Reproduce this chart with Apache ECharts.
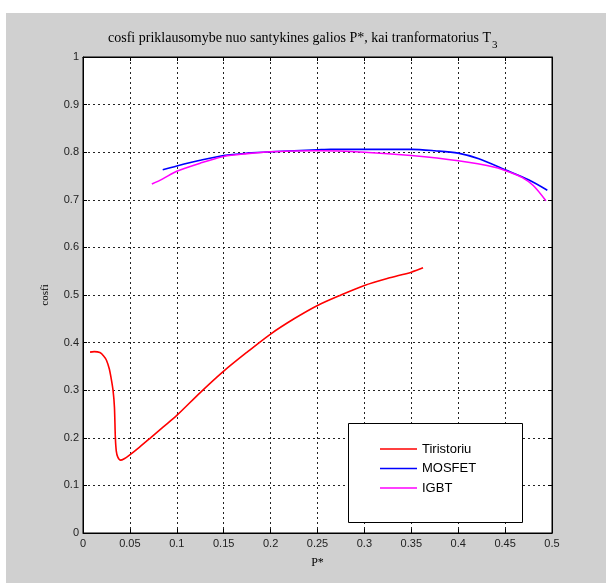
<!DOCTYPE html>
<html>
<head>
<meta charset="utf-8">
<script src="https://cdn.jsdelivr.net/npm/echarts@6/dist/echarts.min.js"></script>
<style>
html,body{margin:0;padding:0;background:#fff;}
#wrap{position:relative;width:606px;height:583px;background:#fff;}
#bg{position:absolute;left:6px;top:13px;width:600px;height:570px;background:#d0d0d0;}
#chart{position:absolute;left:0;top:0;width:606px;height:583px;}
</style>
</head>
<body>
<div id="wrap"><div id="bg"></div><div id="chart"></div></div>
<script>
const titleText = 'cosfi priklausomybe nuo santykines galios P*, kai tranformatorius T';
const titleSub = '3';
const xName = 'P*';
const yName = 'cosfi';
const seriesNames = ['Tiristoriu', 'MOSFET', 'IGBT'];
const seriesColors = ['#ff0000', '#0000ff', '#ff00ff'];

const tiristoriu = [
  [0.0075,0.380],[0.012,0.381],[0.018,0.379],[0.022,0.372],[0.025,0.363],[0.028,0.345],
  [0.030,0.325],[0.032,0.300],[0.0335,0.265],[0.0345,0.200],[0.0355,0.172],[0.037,0.160],
  [0.040,0.153],[0.044,0.156],[0.0485,0.162],[0.060,0.180],[0.072,0.200],[0.085,0.222],
  [0.100,0.247],[0.125,0.295],[0.150,0.340],[0.175,0.380],[0.200,0.418],[0.225,0.450],
  [0.250,0.478],[0.275,0.500],[0.300,0.520],[0.325,0.535],[0.350,0.548],[0.3625,0.557]
];
const mosfet = [
  [0.085,0.763],[0.100,0.771],[0.125,0.783],[0.150,0.793],[0.175,0.798],[0.200,0.801],
  [0.225,0.803],[0.250,0.805],[0.264,0.806],[0.300,0.806],[0.350,0.806],[0.375,0.803],
  [0.400,0.798],[0.422,0.786],[0.450,0.763],[0.475,0.742],[0.495,0.720]
];
const igbt = [
  [0.0734,0.733],[0.085,0.744],[0.100,0.760],[0.125,0.777],[0.150,0.791],[0.175,0.797],
  [0.200,0.801],[0.250,0.803],[0.300,0.800],[0.350,0.793],[0.400,0.782],[0.440,0.768],
  [0.455,0.758],[0.468,0.747],[0.480,0.730],[0.4935,0.698]
];
const seriesData = [tiristoriu, mosfet, igbt];

const chart = echarts.init(document.getElementById('chart'), null, {renderer:'canvas'});
const gridLine = {show:true, lineStyle:{color:'#222', type:[2,3], width:1}};
const labelStyle = {color:'#222', fontFamily:'Liberation Sans', fontSize:11};
const fmt = v => String(parseFloat(v.toFixed(2)));

chart.setOption({
  backgroundColor:'transparent',
  animation:false,
  grid:{left:83, top:57, width:469, height:476, show:true, backgroundColor:'#fff', borderColor:'#000', borderWidth:1},
  xAxis:[
    {type:'value', min:0, max:0.5, interval:0.05, position:'bottom',
     name:xName, nameLocation:'middle', nameGap:24,
     nameTextStyle:{fontFamily:'Liberation Serif', fontSize:12, color:'#000'},
     axisLine:{show:true, onZero:false, lineStyle:{color:'#000'}},
     axisTick:{show:true, inside:true, length:4, lineStyle:{color:'#000'}},
     axisLabel:{...labelStyle, margin:5, formatter:fmt},
     splitLine:gridLine},
    {type:'value', min:0, max:0.5, interval:0.05, position:'top',
     axisLine:{show:true, onZero:false, lineStyle:{color:'#000'}},
     axisTick:{show:true, inside:true, length:4, lineStyle:{color:'#000'}},
     axisLabel:{show:false}, splitLine:{show:false}}
  ],
  yAxis:[
    {type:'value', min:0, max:1, interval:0.1, position:'left',
     name:yName, nameLocation:'middle', nameGap:32,
     nameTextStyle:{fontFamily:'Liberation Serif', fontSize:11, color:'#000'},
     axisLine:{show:true, onZero:false, lineStyle:{color:'#000'}},
     axisTick:{show:true, inside:true, length:4, lineStyle:{color:'#000'}},
     axisLabel:{...labelStyle, margin:4, formatter:fmt},
     splitLine:gridLine},
    {type:'value', min:0, max:1, interval:0.1, position:'right',
     axisLine:{show:true, onZero:false, lineStyle:{color:'#000'}},
     axisTick:{show:true, inside:true, length:4, lineStyle:{color:'#000'}},
     axisLabel:{show:false}, splitLine:{show:false}}
  ],
  legend:{
    orient:'vertical', left:380, top:442, itemWidth:37, itemHeight:1.5, itemGap:5.5,
    padding:0, z:10, icon:'rect',
    textStyle:{fontFamily:'Liberation Sans', fontSize:13, color:'#000', lineHeight:14},
    data:seriesNames
  },
  graphic:[
    {type:'rect', z:5, shape:{x:348.5, y:423.5, width:174, height:99},
     style:{fill:'#fff', stroke:'#000', lineWidth:1}},
    {type:'text', x:491, y:38, z:5,
     style:{text:titleText, fontFamily:'Liberation Serif', fontSize:14, fill:'#000',
            textAlign:'right', textVerticalAlign:'middle'}},
    {type:'text', x:492, y:45, z:5,
     style:{text:titleSub, fontFamily:'Liberation Serif', fontSize:11, fill:'#000',
            textAlign:'left', textVerticalAlign:'middle'}}
  ],
  series: seriesData.map((d,i)=>({
    name:seriesNames[i], type:'line', data:d, xAxisIndex:0, yAxisIndex:0,
    showSymbol:false, symbol:'none', smooth:0.3,
    lineStyle:{color:seriesColors[i], width:1.6}, itemStyle:{color:seriesColors[i]}
  }))
});
</script>
</body>
</html>
